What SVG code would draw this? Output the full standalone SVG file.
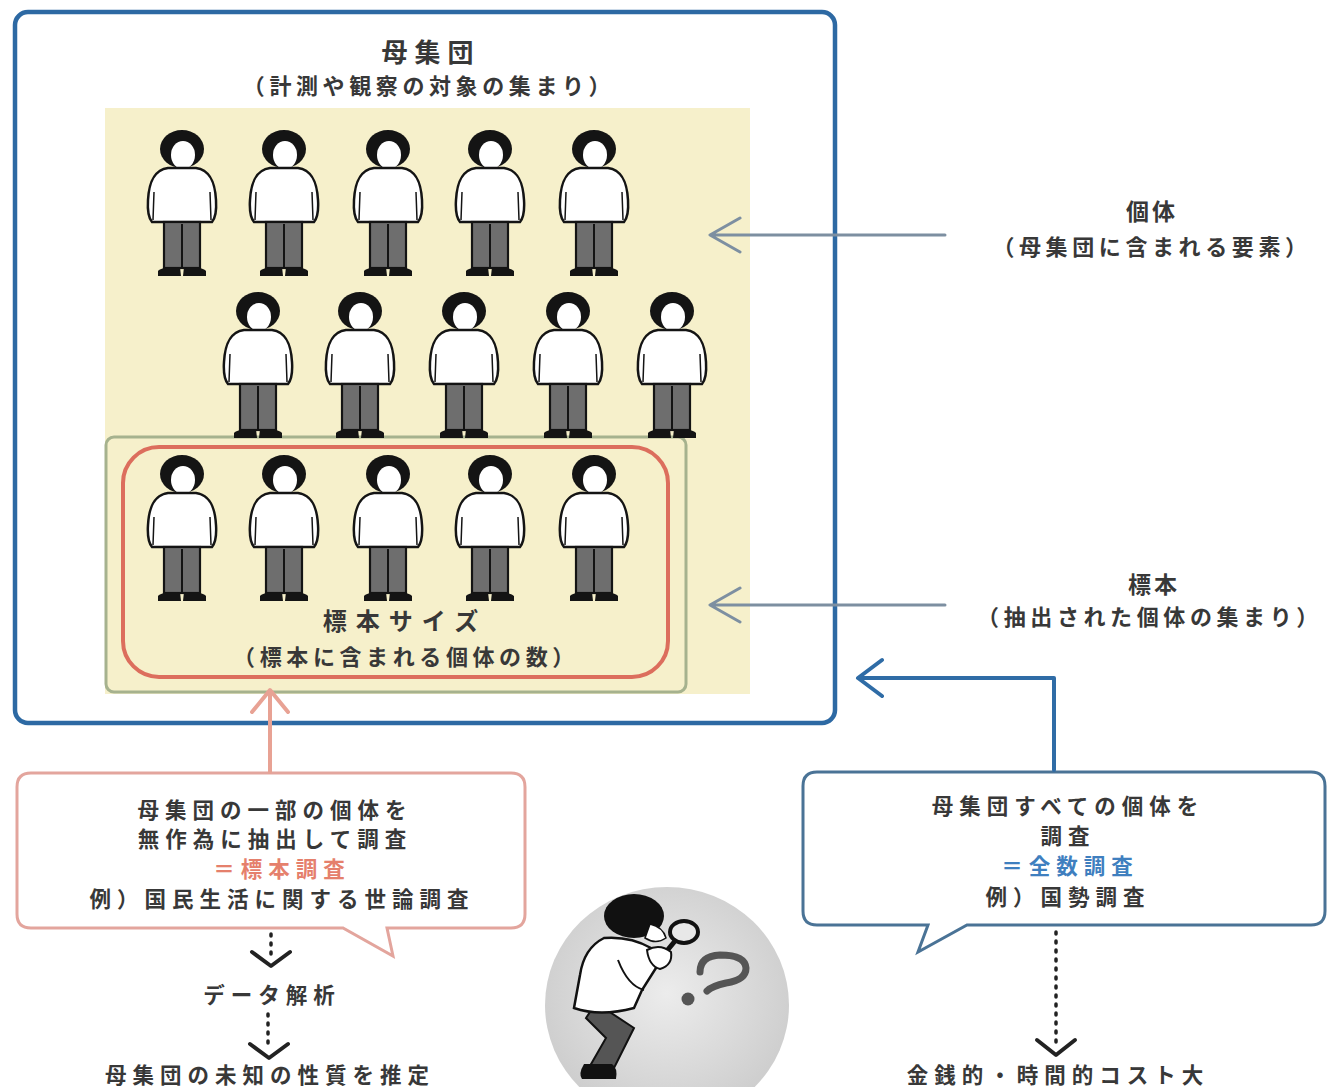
<svg xmlns="http://www.w3.org/2000/svg" width="1329" height="1087" viewBox="0 0 1329 1087">
  <defs>
    <style>
      .t { font-family: "Noto Sans CJK JP", "Noto Sans CJK SC", sans-serif; font-weight: bold; fill: #383838; text-anchor: middle; }
      .lbl { font-size: 22px; letter-spacing: 4.6px; }
      .bub { font-size: 21.5px; letter-spacing: 6px; }
      .dots { stroke: #222; stroke-width: 3.5; stroke-dasharray: 2 7; stroke-linecap: round; fill: none; }
      .chev { stroke: #222; stroke-width: 4; fill: none; stroke-linejoin: round; stroke-linecap: round; }
      .gray-arrow { stroke: #7d8fa1; stroke-width: 3; fill: none; stroke-linecap: round; stroke-linejoin: round; }
    </style>
    <!-- standing figure, anchored at top centre -->
    <g id="person">
      <ellipse cx="0" cy="19" rx="22" ry="19" fill="#141414"/>
      <ellipse cx="1" cy="25" rx="12" ry="14" fill="#fff"/>
      <path d="M -14 38 C -28 40 -33 52 -34 70 Q -35 86 -30 92 L 30 92 Q 35 86 34 70 C 33 52 28 40 14 38 Z" fill="#fff" stroke="#141414" stroke-width="2.5"/>
      <path d="M -28 62 L -29 90 M 28 62 L 29 90" stroke="#141414" stroke-width="1.5" fill="none"/>
      <rect x="-18" y="92" width="36" height="46" fill="#6e6e6e" stroke="#141414" stroke-width="2.2"/>
      <line x1="0" y1="94" x2="0" y2="138" stroke="#141414" stroke-width="2"/>
      <path d="M -24 146 L -24 141 Q -21 137 -2 137 L -1 146 Z M 24 146 L 24 141 Q 21 137 2 137 L 1 146 Z" fill="#141414"/>
    </g>
    <radialGradient id="spot" cx="0.5" cy="0.45" r="0.55">
      <stop offset="0" stop-color="#ececec"/>
      <stop offset="1" stop-color="#cdcdcd"/>
    </radialGradient>
  </defs>

  <rect width="1329" height="1087" fill="#ffffff"/>

  <!-- population frame -->
  <g id="population">
    <rect x="105" y="108" width="645" height="586" fill="#f6f0cb"/>
    <rect x="15" y="12" width="820" height="711" rx="13" fill="none" stroke="#2d69a3" stroke-width="4.5"/>
    <text class="t" x="431" y="62" font-size="26" letter-spacing="7">母集団</text>
    <text class="t lbl" x="429" y="94">（計測や観察の対象の集まり）</text>
  </g>

  <!-- sample frame -->
  <g id="sample">
    <rect x="106" y="437" width="580" height="255" rx="8" fill="none" stroke="#a6b28e" stroke-width="3"/>
    <rect x="123" y="447" width="545" height="230" rx="36" fill="none" stroke="#dc6e5d" stroke-width="4"/>
    <text class="t" x="405" y="630" font-size="24" letter-spacing="9">標本サイズ</text>
    <text class="t lbl" x="406" y="665">（標本に含まれる個体の数）</text>
  </g>

  <!-- individuals -->
  <g id="individuals">
    <use href="#person" x="182" y="130"/>
    <use href="#person" x="284" y="130"/>
    <use href="#person" x="388" y="130"/>
    <use href="#person" x="490" y="130"/>
    <use href="#person" x="594" y="130"/>
    <use href="#person" x="258" y="292"/>
    <use href="#person" x="360" y="292"/>
    <use href="#person" x="464" y="292"/>
    <use href="#person" x="568" y="292"/>
    <use href="#person" x="672" y="292"/>
    <use href="#person" x="182" y="455"/>
    <use href="#person" x="284" y="455"/>
    <use href="#person" x="388" y="455"/>
    <use href="#person" x="490" y="455"/>
    <use href="#person" x="594" y="455"/>
  </g>

  <!-- side labels -->
  <g id="label-individual">
    <text class="t" x="1152" y="220" font-size="23" letter-spacing="3">個体</text>
    <text class="t lbl" x="1152" y="255">（母集団に含まれる要素）</text>
  </g>
  <g id="label-sample">
    <text class="t" x="1154" y="593" font-size="23" letter-spacing="3">標本</text>
    <text class="t lbl" x="1150" y="625">（抽出された個体の集まり）</text>
  </g>

  <!-- speech bubble: sample survey -->
  <g id="sample-survey">
    <path d="M 31 773 H 511 Q 525 773 525 787 V 914 Q 525 928 511 928 H 387 L 393 956 L 343 928 H 31 Q 17 928 17 914 V 787 Q 17 773 31 773 Z" fill="#fff" stroke="#e3a59d" stroke-width="3"/>
    <text class="t bub" x="275" y="818">母集団の一部の個体を</text>
    <text class="t bub" x="275" y="847">無作為に抽出して調査</text>
    <text class="t bub" x="282" y="877" style="fill:#e5806c">＝標本調査</text>
    <text class="t bub" x="282" y="907">例）国民生活に関する世論調査</text>
  </g>

  <!-- speech bubble: complete census -->
  <g id="census">
    <path d="M 817 772 H 1311 Q 1325 772 1325 786 V 911 Q 1325 925 1311 925 H 967 L 918 952 L 928 925 H 817 Q 803 925 803 911 V 786 Q 803 772 817 772 Z" fill="#fff" stroke="#4a7396" stroke-width="3"/>
    <text class="t bub" x="1068" y="814">母集団すべての個体を</text>
    <text class="t bub" x="1068" y="844">調査</text>
    <text class="t bub" x="1070" y="874" style="fill:#3f7fbf">＝全数調査</text>
    <text class="t bub" x="1068" y="905">例）国勢調査</text>
  </g>

  <!-- outcome labels -->
  <g id="analysis">
    <text class="t bub" x="272" y="1003">データ解析</text>
  </g>
  <g id="estimate">
    <text class="t bub" x="270" y="1083">母集団の未知の性質を推定</text>
  </g>
  <g id="cost">
    <text class="t bub" x="1058" y="1083">金銭的・時間的コスト大</text>
  </g>

  <!-- researcher with magnifying glass -->
  <g id="researcher">
    <ellipse cx="667" cy="1005" rx="122" ry="118" fill="url(#spot)"/>
    <!-- legs -->
    <path d="M 596 1003 L 634 1028 L 614 1068 L 590 1066 L 606 1038 L 586 1018 Z" fill="#555" stroke="#111" stroke-width="2"/>
    <path d="M 584 1064 Q 578 1074 582 1079 L 616 1079 Q 618 1068 612 1064 Z" fill="#111"/>
    <!-- body -->
    <path d="M 604 938 Q 584 948 580 975 L 574 1008 Q 600 1017 634 1008 L 642 990 L 656 968 L 651 948 Q 630 936 604 938 Z" fill="#fff" stroke="#111" stroke-width="2.5"/>
    <path d="M 618 960 Q 628 986 644 990" stroke="#111" stroke-width="2" fill="none"/>
    <!-- head -->
    <ellipse cx="634" cy="916" rx="30" ry="22" fill="#111"/>
    <path d="M 650 924 Q 663 927 666 938 Q 656 945 645 938 Z" fill="#fff" stroke="#111" stroke-width="1.5"/>
    <!-- magnifier -->
    <ellipse cx="684" cy="932" rx="14" ry="11" fill="#e8e8e8" stroke="#111" stroke-width="4"/>
    <path d="M 675 941 L 661 958" stroke="#111" stroke-width="5" stroke-linecap="round"/>
    <path d="M 647 950 Q 660 943 671 952 Q 673 965 660 969 Q 649 966 647 950 Z" fill="#fff" stroke="#111" stroke-width="2"/>
    <!-- question mark -->
    <path d="M 700 972 Q 700 956 720 955 Q 745 955 746 968 Q 746 980 726 983 Q 712 986 707 991" fill="none" stroke="#555" stroke-width="7" stroke-linecap="round"/>
    <circle cx="688" cy="999" r="6.5" fill="#555"/>
  </g>

  <!-- connectors -->
  <g id="connectors">
    <path class="gray-arrow" d="M 945 235 H 712 M 740 218 L 710 235 L 740 252"/>
    <path class="gray-arrow" d="M 945 605 H 712 M 740 588 L 710 605 L 740 622"/>
    <path d="M 270 772 V 692 M 252 712 L 270 690 L 288 712" fill="none" stroke="#e8a294" stroke-width="4" stroke-linecap="round" stroke-linejoin="round"/>
    <path d="M 1054 770 V 678 H 860 M 882 660 L 858 678 L 882 696" fill="none" stroke="#2f6ca6" stroke-width="4" stroke-linecap="round" stroke-linejoin="round"/>
    <path class="dots" d="M 271 934 V 958"/>
    <path class="chev" d="M 252 952 L 271 966 L 290 952"/>
    <path class="dots" d="M 268 1014 V 1044"/>
    <path class="chev" d="M 250 1044 L 269 1058 L 288 1044"/>
    <path class="dots" d="M 1056 932 V 1046"/>
    <path class="chev" d="M 1037 1040 L 1056 1055 L 1075 1040"/>
  </g>
</svg>
